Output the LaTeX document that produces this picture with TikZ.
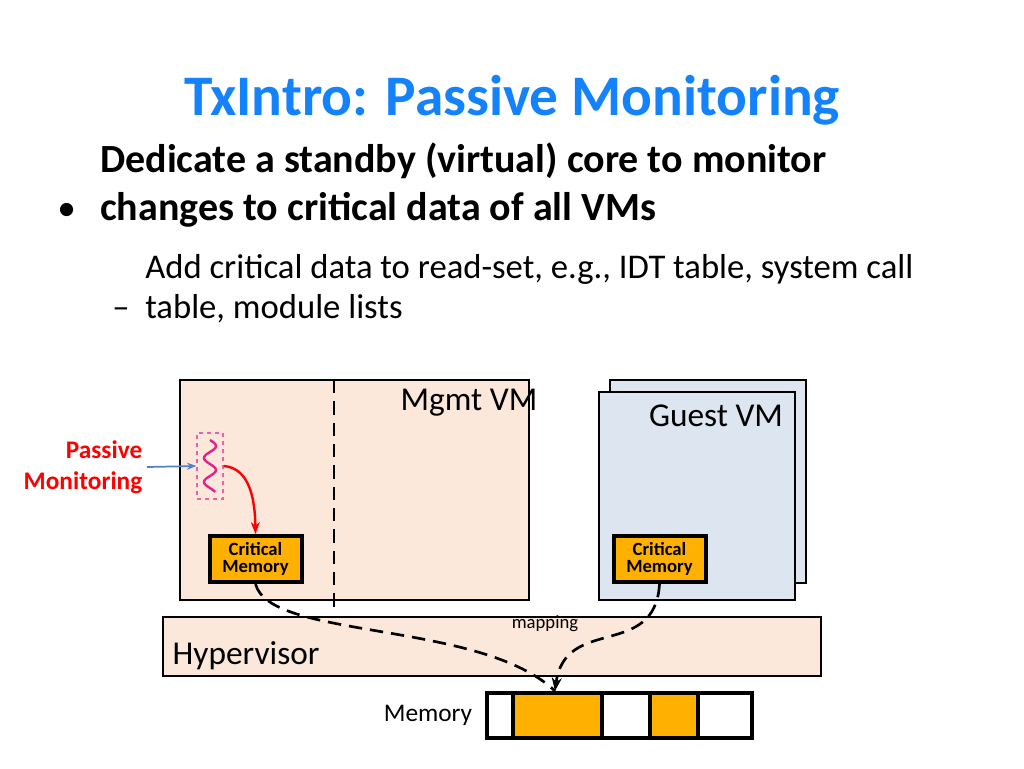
\documentclass[tikz,border=0pt]{standalone}
\usepackage{fontspec}
\setmainfont{Carlito}
\usetikzlibrary{arrows.meta}
\definecolor{ttl}{RGB}{20,130,250}
\definecolor{peach}{RGB}{251,232,218}
\definecolor{gblue}{RGB}{220,229,240}
\definecolor{orng}{RGB}{255,176,0}
\definecolor{magn}{RGB}{230,30,140}
\definecolor{arrblue}{RGB}{80,130,200}
\tikzset{
 vm/.style={draw=black,line width=1pt},
 crit/.style={draw=black,line width=3pt,fill=orng,minimum width=92pt*0.75,minimum height=46pt*0.75,align=center,font=\fontsize{14}{13}\selectfont\bfseries,inner sep=0pt},
 cell/.style={draw=black,line width=2.5pt,minimum height=45*0.75pt,inner sep=0pt},
 map/.style={line width=2pt,dash pattern=on 10pt off 6pt}
}
\begin{document}
\begin{tikzpicture}[x=0.75pt,y=-0.75pt]
\useasboundingbox (0,0) rectangle (1024,768);
\node[text=ttl,font=\fontsize{43}{46}\selectfont\bfseries,anchor=base] (title) at (512,115) {TxIntro: Passive Monitoring};
\node[anchor=base west,font=\fontsize{28}{28}\selectfont,inner sep=0pt] (b1) at (57,220) {•};
\node[anchor=base west,align=left,font=\fontsize{30}{36}\selectfont\bfseries,inner sep=0pt] (t1) at (100,220) {Dedicate a standby (virtual) core to monitor\\changes to critical data of all VMs};
\node[anchor=base west,font=\fontsize{26}{30}\selectfont,inner sep=0pt] (b2) at (112,318) {–};
\node[anchor=base west,align=left,font=\fontsize{26}{30}\selectfont,inner sep=0pt] (t2) at (145,318) {Add critical data to read-set, e.g., IDT table, system call\\table, module lists};
% Mgmt VM
\draw[vm,fill=peach] (180,380) rectangle (529,600);
\node[font=\fontsize{25}{24}\selectfont] (mg) at (469,403) {Mgmt VM};
\coordinate (dt) at (334,380); \coordinate (db) at (334,608);
\draw[map] (dt) -- (db);
% Guest VM
\draw[vm,fill=gblue] (610,380) rectangle (806,583);
\draw[vm,fill=gblue] (599,392) rectangle (795,600);
\node[font=\fontsize{25}{24}\selectfont] (gv) at (716,416) {Guest VM};
% Hypervisor
\draw[vm,fill=peach] (163,617) rectangle (821,676);
\node[anchor=west,font=\fontsize{25}{24}\selectfont] (hv) at (168,656) {Hypervisor};
\node[font=\fontsize{14}{14}\selectfont] (mp) at (545,624) {mapping};
% critical memories
\node[crit] (c1) at (255.5,559) {Critical\\Memory};
\node[crit] (c2) at (659.5,559) {Critical\\Memory};
% squiggle
\node[draw=magn!70,dashed,line width=1pt,minimum width=26*0.75pt,minimum height=66*0.75pt,inner sep=0pt] (sq) at (210,466) {};
\draw[magn,line width=1.8pt,domain=0:52,samples=60] plot ({210+6*sin(\x*15)},{440+\x});
\node[text=red,font=\fontsize{19}{23}\selectfont\bfseries,align=right,anchor=east] (pm) at (147,467) {Passive\\Monitoring};
\draw[arrblue,line width=1.3pt,-{Stealth[length=7pt]}] (pm.east) -- (sq.west);
\draw[red,line width=1.8pt,-{Stealth[length=9pt]}] (sq.east) .. controls (250,468) and (255,500) .. (c1.north);
% memory
\node[font=\fontsize{19}{18}\selectfont] (mem) at (428,715) {Memory};
\node[cell,fill=white,minimum width=26*0.75pt] (m1) at (500,715.5) {};
\node[cell,fill=orng,minimum width=89*0.75pt] (m2) at (557.5,715.5) {};
\node[cell,fill=white,minimum width=48*0.75pt] (m3) at (626,715.5) {};
\node[cell,fill=orng,minimum width=48*0.75pt] (m4) at (674,715.5) {};
\node[cell,fill=white,minimum width=54*0.75pt] (m5) at (725,715.5) {};
\coordinate (mt) at (555,691);
\draw[map] (c1.south) .. controls (270,640) and (480,620) .. (mt);
\draw[map,-{Stealth[length=10pt]}] (c2.south) .. controls (655,660) and (565,615) .. (mt);
\end{tikzpicture}
\end{document}
